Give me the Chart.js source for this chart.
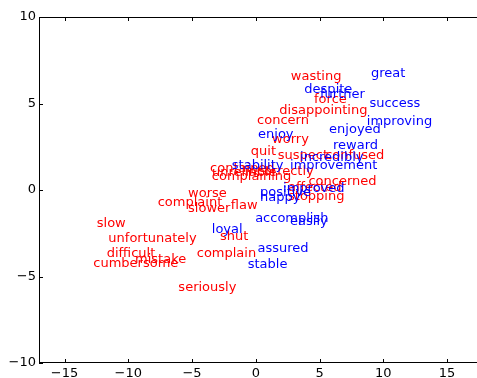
<!DOCTYPE html>
<html>
<head>
<meta charset="utf-8">
<script src="https://cdn.jsdelivr.net/npm/chart.js@4"></script>
<style>
  html, body { margin: 0; padding: 0; background: #fff; }
  #wrap { width: 477px; height: 378px; }
</style>
</head>
<body>
<div id="wrap"><canvas id="c" width="477" height="378"></canvas></div>
<script>
// Words with negative sentiment (drawn red)
const negWords = ["wasting", "force", "disappointing", "concern", "worry", "quit",
  "suspect", "confused", "incorrectly", "contained", "unreliable", "complaining",
  "concerned", "affected", "stopping", "worse", "complaint", "slower", "flaw",
  "shut", "complain", "seriously", "slow", "unfortunately", "difficult",
  "mistake", "cumbersome"];
const negX = [2.75, 4.57, 1.85, 0.10, 1.28, -0.39,
  1.73, 5.44, -0.84, -3.58, -3.43, -3.45,
  4.13, 2.53, 2.53, -5.31, -7.69, -5.31, -1.96,
  -2.80, -4.63, -6.07, -12.47, -11.56, -11.69,
  -9.47, -12.74];
const negY = [6.35, 5.04, 4.39, 3.81, 2.74, 2.02,
  1.79, 1.79, 0.87, 1.04, 0.81, 0.58,
  0.29, -0.03, -0.58, -0.39, -0.91, -1.29, -1.11,
  -2.89, -3.85, -5.81, -2.12, -2.98, -3.88,
  -4.23, -4.43];

// Words with positive sentiment (drawn blue)
const posWords = ["great", "despite", "further", "success", "improving", "enjoyed",
  "enjoy", "reward", "incredibly", "stability", "improvement", "improved",
  "positive", "happy", "accomplish", "easily", "loyal", "assured", "stable"];
const posX = [9.04, 3.81, 5.04, 8.91, 8.71, 5.75,
  0.18, 6.06, 3.47, -1.88, 2.69, 2.14,
  0.34, 0.34, -0.05, 2.69, -3.45, 0.13, -0.63];
const posY = [6.52, 5.61, 5.31, 4.77, 3.75, 3.29,
  3.00, 2.37, 1.67, 1.19, 1.19, -0.12,
  -0.35, -0.61, -1.83, -2.02, -2.50, -3.56, -4.52];

// Axis ticks
const xTicks = [-15, -10, -5, 0, 5, 10, 15];
const yTicks = [-10, -5, 0, 5, 10];

const FONT = '"DejaVu Sans", sans-serif';

function points(xs, ys) {
  return xs.map((x, i) => ({ x: x, y: ys[i] }));
}
function tickLabel(v) {
  return v < 0 ? '\u2212' + Math.abs(v) : String(v);
}

// Draws each word at its point (left/baseline anchored), plus the frame and inward ticks
const wordPlugin = {
  id: 'wordLabels',
  afterDatasetsDraw(chart) {
    const ctx = chart.ctx;
    const area = chart.chartArea;
    const xs = chart.scales.x, ys = chart.scales.y;
    ctx.save();
    ctx.font = '13px ' + FONT;
    ctx.textAlign = 'left';
    ctx.textBaseline = 'alphabetic';
    chart.data.datasets.forEach((ds, di) => {
      const meta = chart.getDatasetMeta(di);
      ctx.fillStyle = ds.textColor;
      meta.data.forEach((pt, j) => {
        ctx.fillText(ds.words[j], pt.x, pt.y);
      });
    });
    ctx.restore();

    // frame (top / left / bottom) and inward ticks
    ctx.save();
    ctx.strokeStyle = '#000';
    ctx.lineWidth = 1;
    ctx.beginPath();
    ctx.moveTo(area.left, area.top + 0.5);
    ctx.lineTo(area.right, area.top + 0.5);
    ctx.moveTo(area.left + 0.5, area.top);
    ctx.lineTo(area.left + 0.5, area.bottom);
    ctx.moveTo(area.left, area.bottom - 0.5);
    ctx.lineTo(area.right, area.bottom - 0.5);
    xTicks.forEach(v => {
      const px = Math.round(xs.getPixelForValue(v)) + 0.5;
      ctx.moveTo(px, area.bottom);
      ctx.lineTo(px, area.bottom - 4);
      ctx.moveTo(px, area.top);
      ctx.lineTo(px, area.top + 4);
    });
    yTicks.forEach(v => {
      const py = Math.round(ys.getPixelForValue(v)) + 0.5;
      ctx.moveTo(area.left, py);
      ctx.lineTo(area.left + 4, py);
    });
    ctx.stroke();
    ctx.restore();
  }
};

new Chart(document.getElementById('c'), {
  type: 'scatter',
  data: {
    datasets: [
      { words: negWords, textColor: '#ff0000', data: points(negX, negY),
        pointRadius: 0, pointHoverRadius: 0, showLine: false },
      { words: posWords, textColor: '#0000ff', data: points(posX, posY),
        pointRadius: 0, pointHoverRadius: 0, showLine: false }
    ]
  },
  options: {
    responsive: false,
    animation: false,
    events: [],
    layout: { padding: { top: 17, right: 0, left: 0, bottom: 0 } },
    plugins: { legend: { display: false }, tooltip: { enabled: false } },
    scales: {
      x: {
        type: 'linear',
        min: -17,
        max: 17.35,
        afterBuildTicks(scale) { scale.ticks = xTicks.map(v => ({ value: v })); },
        afterFit(scale) { scale.height = 15; },
        grid: { display: false, drawTicks: false },
        border: { display: false },
        ticks: {
          padding: 4,
          color: '#000',
          font: { family: FONT, size: 13, lineHeight: 1 },
          maxRotation: 0,
          callback: v => tickLabel(v)
        }
      },
      y: {
        type: 'linear',
        min: -10,
        max: 10,
        afterBuildTicks(scale) { scale.ticks = yTicks.map(v => ({ value: v })); },
        afterFit(scale) { scale.width = 39; },
        grid: { display: false, drawTicks: false },
        border: { display: false },
        ticks: {
          padding: 3,
          color: '#000',
          font: { family: FONT, size: 13, lineHeight: 1 },
          callback: v => tickLabel(v)
        }
      }
    }
  },
  plugins: [wordPlugin]
});
</script>
</body>
</html>
